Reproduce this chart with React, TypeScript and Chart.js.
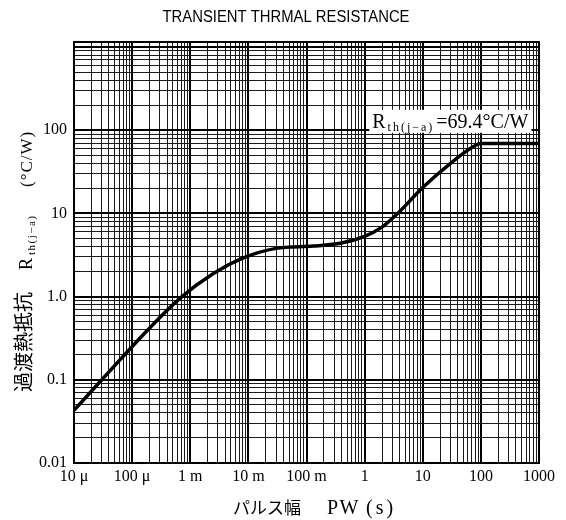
import React, { useEffect, useRef } from "react";
import { Chart, registerables } from "chart.js";

Chart.register(...registerables);

// ---- data ----
const chartTitle = "TRANSIENT THRMAL RESISTANCE";
const pulseWidth = [1e-5, 6e-5, 2e-4, 6.7e-4, 2.5e-3, 8e-3, 0.03, 0.13, 0.4, 1, 1.9, 3.7, 10, 30, 70, 100, 1000];
const thermalResistance = [0.043, 0.17, 0.42, 0.96, 1.9, 2.9, 3.8, 4.05, 4.4, 5.3, 6.7, 10, 20.5, 40, 62, 69.4, 69.4];
const xDecades = [1e-5, 1e-4, 1e-3, 1e-2, 1e-1, 1, 10, 100, 1000];
const xDecadeLabels = ["10 μ", "100 μ", "1 m", "10 m", "100 m", "1", "10", "100", "1000"];
const yDecades = [0.01, 0.1, 1, 10, 100, 1000];
const yDecadeLabels = ["0.01", "0.1", "1.0", "10", "100", ""];
const yMin = 0.01;
const yMax = 1150;
const xMin = 1e-5;
const xMax = 1000;
const yTitleJa = "過渡熱抵抗";
const yTitleSym = "R";
const yTitleSub = "th(j−a)";
const yTitleUnit = "(°C/W)";
const xTitleJa = "パルス幅";
const xTitleSym = "PW";
const xTitleUnit = "(s)";
const annotationSym = "R";
const annotationSub = "th(j−a)";
const annotationText = "=69.4°C/W";
const annotationX = 1.3;
const annotationY = 107;

const SERIF = '"Liberation Serif", "DejaVu Serif", serif';
const CJK = '"Noto Sans CJK JP", sans-serif';

function logGrid(decades: number[]) {
  const out: number[] = [];
  for (let i = 0; i < decades.length - 1; i++) {
    for (let m = 1; m <= 9; m++) out.push(decades[i] * m);
  }
  out.push(decades[decades.length - 1]);
  return out;
}

function decadeIndex(v: number, decades: number[]) {
  return decades.findIndex((d) => Math.abs(Math.log10(v) - Math.log10(d)) < 1e-6);
}

function isDecade(v: number) {
  const l = Math.log10(v);
  return Math.abs(l - Math.round(l)) < 1e-6;
}

function setLS(ctx: any, v: number) {
  if ("letterSpacing" in ctx) ctx.letterSpacing = v + "px";
}

const textPlugin = {
  id: "texts",
  afterDraw(chart: any) {
    const { ctx, chartArea: a, scales } = chart;
    ctx.save();
    // frame
    ctx.strokeStyle = "#000";
    ctx.lineWidth = 2;
    ctx.strokeRect(a.left, a.top, a.right - a.left, a.bottom - a.top);

    ctx.fillStyle = "#000";
    ctx.textBaseline = "alphabetic";
    ctx.textAlign = "left";

    // title
    ctx.font = '16px "Liberation Sans", Arial, sans-serif';
    const tw = ctx.measureText(chartTitle).width;
    ctx.save();
    ctx.translate(286, 22);
    ctx.scale(247 / tw, 1);
    ctx.textAlign = "center";
    ctx.fillText(chartTitle, 0, 0);
    ctx.restore();

    // x-axis title
    ctx.font = `17px ${CJK}`;
    ctx.fillText(xTitleJa, 233, 514);
    ctx.font = `20px ${SERIF}`;
    setLS(ctx, 1.5);
    ctx.fillText(xTitleSym, 327, 514);
    setLS(ctx, 3);
    ctx.fillText(xTitleUnit, 366, 514);
    setLS(ctx, 0);

    // y-axis title (rotated)
    ctx.save();
    ctx.translate(31, 392);
    ctx.rotate(-Math.PI / 2);
    ctx.font = `20px ${CJK}`;
    ctx.fillText(yTitleJa, 0, 0);
    ctx.font = `18px ${SERIF}`;
    ctx.fillText(yTitleSym, 122, 1);
    ctx.font = `11px ${SERIF}`;
    setLS(ctx, 1.5);
    ctx.fillText(yTitleSub, 137, 4);
    setLS(ctx, 1);
    ctx.font = `17px ${SERIF}`;
    ctx.fillText(yTitleUnit, 205, 1);
    setLS(ctx, 0);
    ctx.restore();

    // annotation
    const ax = scales.x.getPixelForValue(annotationX);
    const ay = scales.y.getPixelForValue(annotationY);
    ctx.font = `20px ${SERIF}`;
    const rW = ctx.measureText(annotationSym).width;
    ctx.font = `12px ${SERIF}`;
    setLS(ctx, 2);
    const sW = ctx.measureText(annotationSub).width;
    setLS(ctx, 0);
    ctx.font = `20px ${SERIF}`;
    const tW = ctx.measureText(annotationText).width;
    const totalW = rW + 2 + sW + 2 + tW;
    ctx.fillStyle = "#fff";
    ctx.fillRect(ax - 2, ay - 18, totalW + 6, 23);
    ctx.fillStyle = "#000";
    let cx = ax + 1;
    ctx.font = `20px ${SERIF}`;
    ctx.fillText(annotationSym, cx, ay);
    cx += rW + 2;
    ctx.font = `12px ${SERIF}`;
    setLS(ctx, 2);
    ctx.fillText(annotationSub, cx, ay + 3);
    setLS(ctx, 0);
    cx += sW + 2;
    ctx.font = `20px ${SERIF}`;
    ctx.fillText(annotationText, cx, ay);

    ctx.restore();
  },
};

export default function App() {
  const ref = useRef<HTMLCanvasElement | null>(null);

  useEffect(() => {
    if (!ref.current) return;
    const gridColor = (c: any) => (c.tick && isDecade(c.tick.value) ? "#000" : "#1a1a1a");
    const gridWidth = (c: any) => (c.tick && isDecade(c.tick.value) ? 2 : 1);
    const chart = new Chart(ref.current, {
      type: "line",
      data: {
        datasets: [
          {
            data: pulseWidth.map((x, i) => ({ x, y: thermalResistance[i] })),
            borderColor: "#000",
            borderWidth: 3.5,
            pointRadius: 0,
            fill: false,
            cubicInterpolationMode: "monotone",
          },
        ],
      },
      options: {
        responsive: false,
        maintainAspectRatio: false,
        animation: false,
        layout: { padding: { top: 42, right: 27, left: 0, bottom: 0 } },
        plugins: {
          legend: { display: false },
          title: { display: false },
          tooltip: { enabled: false },
        },
        scales: {
          x: {
            type: "logarithmic",
            min: xMin,
            max: xMax,
            afterBuildTicks: (s: any) => {
              s.ticks = logGrid(xDecades).map((v) => ({ value: v }));
            },
            afterFit: (s: any) => {
              s.height = 57;
            },
            grid: { color: gridColor, lineWidth: gridWidth, drawTicks: false },
            border: { color: "#000", width: 2 },
            ticks: {
              autoSkip: false,
              maxRotation: 0,
              minRotation: 0,
              padding: 4,
              color: "#000",
              font: { family: SERIF, size: 16 },
              callback: (v: any) => {
                const i = decadeIndex(Number(v), xDecades);
                return i >= 0 ? xDecadeLabels[i] : "";
              },
            },
          },
          y: {
            type: "logarithmic",
            min: yMin,
            max: yMax,
            afterBuildTicks: (s: any) => {
              s.ticks = logGrid(yDecades).map((v) => ({ value: v }));
            },
            afterFit: (s: any) => {
              s.width = 74;
            },
            grid: { color: gridColor, lineWidth: gridWidth, drawTicks: false },
            border: { color: "#000", width: 2 },
            ticks: {
              autoSkip: false,
              padding: 7,
              color: "#000",
              font: { family: SERIF, size: 16 },
              callback: (v: any) => {
                const i = decadeIndex(Number(v), yDecades);
                return i >= 0 ? yDecadeLabels[i] : "";
              },
            },
          },
        },
      },
      plugins: [textPlugin],
    } as any);
    return () => chart.destroy();
  }, []);

  return (
    <div style={{ position: "absolute", left: 0, top: 0, width: 566, height: 520, background: "#fff" }}>
      <canvas ref={ref} width={566} height={520} style={{ display: "block", width: 566, height: 520 }} />
    </div>
  );
}
